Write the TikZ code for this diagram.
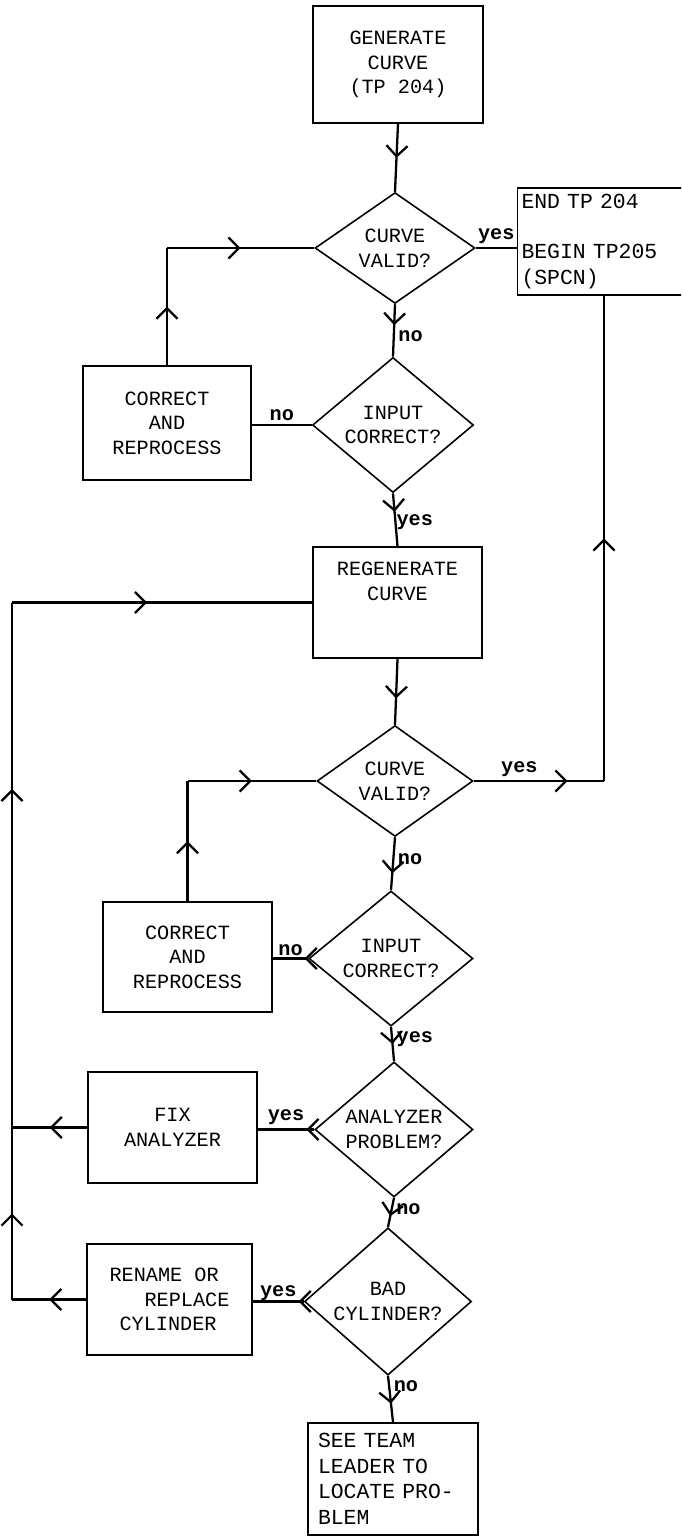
\documentclass[tikz,border=0pt]{standalone}
\usepackage{fontspec}
\setmainfont{Liberation Mono}
\usetikzlibrary{arrows.meta, shapes.geometric, decorations.markings}

\begin{document}
\begin{tikzpicture}[
x=0.02cm, y=-0.02cm,
font=\fontsize{11.5}{14}\selectfont,
box/.style={rectangle, draw, line width=1pt, align=center, inner sep=0pt},
notebox/.style={box, align=left, font=\fontsize{12.2}{14.5}\selectfont},
decision/.style={diamond, draw, line width=0.9pt, align=center, inner sep=0pt},
line/.style={line width=1.3pt},
arrowmid/.style={postaction={decorate}, decoration={markings, mark=at position #1 with {\arrow{Straight Barb[length=6pt,width=12pt]}}}},
arrowmid/.default=0.5,
answer/.style={font=\fontsize{11.5}{14}\selectfont\bfseries, inner sep=2pt}
]

\clip (0,0) rectangle (681,1536);

\node[box, minimum width=3.4cm, minimum height=2.34cm] (cur_gen) at (398,64.5) {GENERATE\\CURVE\\(TP 204)};
\node[decision, minimum width=3.2cm, minimum height=2.16cm] (cur_valid) at (395,248) {CURVE\\VALID?};
\node[notebox, minimum height=2.14cm, text width=3.3cm, inner xsep=0.08cm] (cur_end) at (604,241.5) {END TP 204\\[14pt]BEGIN TP205\\(SPCN)};
\node[decision, minimum width=3.22cm, minimum height=2.2cm] (cur_input) at (393,425) {INPUT\\CORRECT?};
\node[box, minimum width=3.36cm, minimum height=2.28cm] (cur_fix) at (167,423) {CORRECT\\AND\\REPROCESS};
\node[box, minimum width=3.38cm, minimum height=2.22cm] (cur_regen) at (397.5,602.5) {REGENERATE\\CURVE\\[10pt]};

\node[decision, minimum width=3.12cm, minimum height=2.08cm] (cur_valid2) at (395,781) {CURVE\\VALID?};
\node[decision, minimum width=3.28cm, minimum height=2.14cm] (cur_input2) at (391,958.5) {INPUT\\CORRECT?};
\node[box, minimum width=3.38cm, minimum height=2.2cm] (cur_fix2) at (187.5,957) {CORRECT\\AND\\REPROCESS};
\node[decision, minimum width=3.16cm, minimum height=2.1cm] (cur_analyzer) at (394,1129.5) {ANALYZER\\PROBLEM?};
\node[box, minimum width=3.38cm, minimum height=2.22cm] (cur_fixan) at (172.5,1127.5) {FIX\\ANALYZER};
\node[decision, minimum width=3.34cm, minimum height=2.14cm] (cur_bad) at (388,1301.5) {BAD\\CYLINDER?};
\node[box, minimum width=3.3cm, minimum height=2.22cm, align=left] (cur_rename) at (169.5,1299.5) {RENAME OR\\\hspace*{0.7cm}REPLACE\\\hspace*{0.2cm}CYLINDER};
\node[notebox, minimum height=2.24cm, text width=3.0cm, inner xsep=0.2cm] (cur_team) at (393,1479) {SEE TEAM\\LEADER TO\\LOCATE PRO-\\BLEM};

\coordinate (cur_left) at (12,0);
\coordinate (cur_c1) at (cur_fix.north |- cur_valid.west);
\coordinate (cur_c2) at (cur_fix2.north |- cur_valid2.west);
\coordinate (cur_rturn) at (cur_end.south |- cur_valid2.east);
\coordinate (cur_ltop) at (cur_regen.west -| cur_left);
\coordinate (cur_lmid) at (cur_fixan.west -| cur_left);
\coordinate (cur_lbot) at (cur_rename.west -| cur_left);

\draw[line, arrowmid] (cur_gen.south) -- (cur_valid.north);
\draw[line] (cur_valid.east) -- node[answer, above] {yes} (cur_valid.east -| cur_end.west);
\draw[line, arrowmid=0.4] (cur_valid.south) -- node[answer, right, pos=0.6] {no} (cur_input.north);
\draw[line] (cur_input.west) -- node[answer, above] {no} (cur_input.west -| cur_fix.east);
\draw[line, arrowmid] (cur_fix.north) -- (cur_c1);
\draw[line, arrowmid] (cur_c1) -- (cur_valid.west);
\draw[line, arrowmid=0.35] (cur_input.south) -- node[answer, right, pos=0.55, inner sep=0pt] {yes} (cur_regen.north);

\draw[line, arrowmid=0.6] (cur_regen.south) -- (cur_valid2.north);
\draw[line, arrowmid=0.72] (cur_valid2.east) -- node[answer, above, pos=0.35] {yes} (cur_rturn);
\draw[line, arrowmid] (cur_rturn) -- (cur_end.south);
\draw[line, arrowmid=0.68] (cur_valid2.south) -- node[answer, right, pos=0.42] {no} (cur_input2.north);
\draw[line, arrowmid=0.1] (cur_input2.west) -- node[answer, above, inner sep=1pt] {no} (cur_input2.west -| cur_fix2.east);
\draw[line, arrowmid] (cur_fix2.north) -- (cur_c2);
\draw[line, arrowmid] (cur_c2) -- (cur_valid2.west);
\draw[line, arrowmid] (cur_input2.south) -- node[answer, right, pos=0.35] {yes} (cur_analyzer.north);

\draw[line, arrowmid=0.14] (cur_analyzer.west) -- node[answer, above] {yes} (cur_analyzer.west -| cur_fixan.east);
\draw[line, arrowmid] (cur_fixan.west) -- (cur_lmid);
\draw[line, arrowmid=0.62] (cur_analyzer.south) -- node[answer, right, pos=0.4] {no} (cur_bad.north);
\draw[line, arrowmid=0.1] (cur_bad.west) -- node[answer, above, inner sep=0pt] {yes} (cur_bad.west -| cur_rename.east);
\draw[line, arrowmid] (cur_rename.west) -- (cur_lbot);
\draw[line, arrowmid=0.6] (cur_bad.south) -- node[answer, right, pos=0.22] {no} (cur_team.north);

\draw[line, arrowmid] (cur_lbot) -- (cur_lmid);
\draw[line, arrowmid=0.645] (cur_lmid) -- (cur_ltop);
\draw[line, arrowmid=0.45] (cur_ltop) -- (cur_regen.west);

\end{tikzpicture}
\end{document}
